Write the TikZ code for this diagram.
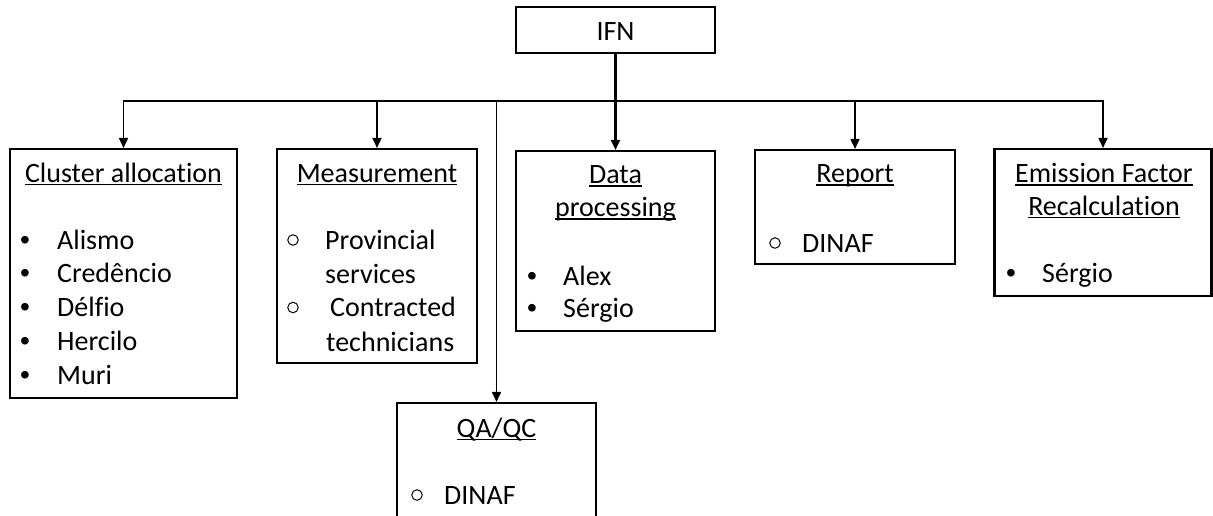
\documentclass[tikz,border=0pt]{standalone}
\usepackage{fontspec}
\setmainfont{Carlito}[Ligatures={NoCommon,NoContextual}]
\newfontfamily\bulsans{Liberation Sans}
\usetikzlibrary{arrows.meta}
\newcommand\myul[1]{\setbox0=\hbox{#1}\rlap{\rule[-3.2pt]{\wd0}{1.6pt}}\box0}
\begin{document}
\begin{tikzpicture}[x=1pt,y=-1pt,
  box/.style={draw=black, line width=2.1pt, inner sep=0pt, rectangle},
  conn/.style={draw=black, line width=1.7pt},
  arr/.style={conn, -{Triangle[width=9pt,length=10pt]}},
  txt/.style={inner sep=0pt, anchor=base west, font={\fontsize{28}{33}\selectfont}},
  hd/.style={inner sep=0pt, anchor=base, font={\fontsize{28}{33}\selectfont}},
  bul/.style={inner sep=0pt, anchor=base, font={\fontsize{28}{33}\bulsans}},
  cir/.style={circle, draw=black, line width=1pt, minimum size=10.5pt, inner sep=0pt}]
\clip (0,0) rectangle (1213,515);
\fill[white] (0,0) rectangle (1213,515);
% boxes
\node[box, minimum width=199pt, minimum height=46pt] (ifn) at (615.5,30) {};
\node[box, minimum width=227pt, minimum height=249pt] (cl) at (123.5,273.5) {};
\node[box, minimum width=200pt, minimum height=214pt] (me) at (377,256) {};
\node[box, minimum width=199pt, minimum height=180pt] (dp) at (615.5,241) {};
\node[box, minimum width=200pt, minimum height=114pt] (rp) at (855,207) {};
\node[box, minimum width=217pt, minimum height=147pt] (ef) at (1103,222.5) {};
\node[box, minimum width=199pt, minimum height=157pt] (qa) at (496.5,481.5) {};
% connectors
\coordinate (hub) at (615.5,101);
\draw[arr, line width=2.1pt] (ifn.south) -- (dp.north);
\draw[arr] (hub) -| (cl.north);
\draw[arr] (hub) -| (me.north);
\draw[arr] (hub) -| (rp.north);
\draw[arr] (hub) -| (ef.north);
\draw[arr] (hub) -| (qa.north);
% IFN
\node[hd] (tifn) at (615.5,40) {IFN};
% Cluster allocation
\node[hd] (tcl) at (123.5,182) {\myul{Cluster allocation}};
\node[bul] (bc1) at (25,249) {•};
\node[txt] (c1) at (57,249) {Alismo};
\node[bul] (bc2) at (25,282.75) {•};
\node[txt] (c2) at (57,282.75) {Credêncio};
\node[bul] (bc3) at (25,316.5) {•};
\node[txt] (c3) at (57,316.5) {Délfio};
\node[bul] (bc4) at (25,350.25) {•};
\node[txt] (c4) at (57,350.25) {Hercilo};
\node[bul] (bc5) at (25,384) {•};
\node[txt] (c5) at (57,384) {Muri};
% Measurement
\node[hd] (tme) at (377,182) {\myul{Measurement}};
\node[cir] (bm1) at (293,240) {};
\node[txt] (m1) at (325,249) {Provincial};
\node[txt] (m2) at (325,283) {services};
\node[cir] (bm2) at (293,307.5) {};
\node[txt] (m3) at (330,316.5) {Contracted};
\node[txt] (m4) at (326,351) {technicians};
% Data processing
\node[hd] (tdp1) at (615.5,183.5) {\myul{Data}};
\node[hd] (tdp2) at (615.5,216.5) {\myul{processing}};
\node[bul] (bd1) at (532,285) {•};
\node[txt] (d1) at (563,285) {Alex};
\node[bul] (bd2) at (532,317.5) {•};
\node[txt] (d2) at (563,317.5) {Sérgio};
% Report
\node[hd] (trp) at (855,182.5) {\myul{Report}};
\node[cir] (br1) at (775,243) {};
\node[txt] (r1) at (802,252) {DINAF};
% Emission factor
\node[hd] (tef1) at (1104,182.5) {\myul{Emission Factor}};
\node[hd] (tef2) at (1104,215) {\myul{Recalculation}};
\node[bul] (be1) at (1011,282) {•};
\node[txt] (e1) at (1042,282) {Sérgio};
% QA/QC
\node[hd] (tqa) at (496.5,437) {\myul{QA/QC}};
\node[cir] (bq1) at (417,495) {};
\node[txt] (q1) at (444,504) {DINAF};
\end{tikzpicture}
\end{document}
